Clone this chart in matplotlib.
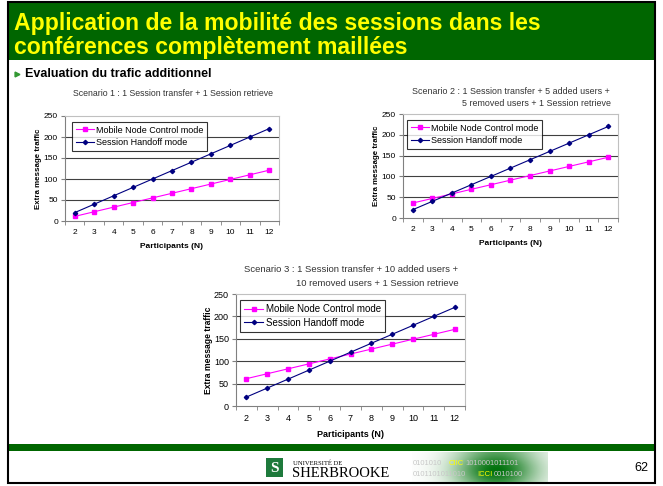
import numpy as np
import matplotlib.pyplot as plt
from matplotlib.patches import Rectangle

participants = [2, 3, 4, 5, 6, 7, 8, 9, 10, 11, 12]
handoff = [20, 40, 60, 80, 100, 120, 140, 160, 180, 200, 220]
mnc_s1 = [11, 22, 33, 44, 55, 66, 77, 88, 99, 110, 121]
mnc_s2 = [36, 47, 58, 69, 80, 91, 102, 113, 124, 135, 146]
mnc_s3 = [61, 72, 83, 94, 105, 116, 127, 138, 149, 160, 171]
series_names = ["Mobile Node Control mode", "Session Handoff mode"]
y_ticks = [0, 50, 100, 150, 200, 250]

W, H = 663, 486
fig = plt.figure(figsize=(W / 100, H / 100), dpi=100)
fig.patch.set_facecolor("white")
plt.rcParams["font.family"] = ["Liberation Sans", "DejaVu Sans"]

# full-figure overlay in pixel coordinates (y down)
bg = fig.add_axes([0, 0, 1, 1])
bg.set_xlim(0, W)
bg.set_ylim(H, 0)
bg.axis("off")

green = "#006600"
bg.add_patch(Rectangle((9, 3), 646, 57, facecolor=green, edgecolor="none"))
bg.add_patch(Rectangle((9, 444), 646, 7, facecolor=green, edgecolor="none"))
bg.add_patch(Rectangle((8, 2), 647, 481, facecolor="none", edgecolor="black", lw=1.5))

bg.text(14, 30, "Application de la mobilité des sessions dans les", color="#FFFF00",
        fontsize=16.6, fontweight="bold", va="baseline")
bg.text(14, 54, "conférences complètement maillées", color="#FFFF00",
        fontsize=16.6, fontweight="bold", va="baseline")

# sub heading with small bullet
bg.plot([17], [74], marker=">", color="#339933", markersize=3.5)
bg.text(25, 74, "Evaluation du trafic additionnel", fontsize=9, fontweight="bold",
        va="center")

# footer: logo, binary banner, page number
bg.add_patch(Rectangle((266, 458), 17, 19, facecolor="#1E7A3C", edgecolor="none"))
bg.text(274.5, 468, "S", color="white", fontsize=11, fontweight="bold",
        family="Liberation Serif", ha="center", va="center")
bg.text(293, 463, "UNIVERSITÉ DE", fontsize=4.8, family="Liberation Serif",
        va="center")
bg.text(292, 473.5, "SHERBROOKE", fontsize=10.5, family="Liberation Serif",
        va="center")

xs = np.linspace(0, 1, 200)
ys = np.linspace(0, 1, 40)
gx, gy = np.meshgrid(xs, ys)
alpha = np.exp(-((gx - 0.62) / 0.3) ** 2) * (0.55 + 0.45 * np.exp(-((gy - 0.6) / 0.5) ** 2))
rgba = np.zeros((40, 200, 4))
rgba[..., 1] = 0.45
rgba[..., 2] = 0.05
rgba[..., 3] = alpha
bg.imshow(rgba, extent=(412, 548, 482, 452), aspect="auto", zorder=1)
bg.text(413, 463, "0101010", fontsize=5.5, color="#c8c8c8", va="center", zorder=2)
bg.text(449, 463, "CIIC", fontsize=5.5, color="#FFFF00", va="center", zorder=2)
bg.text(465, 463, "1010001011101", fontsize=5.5, color="#c8c8c8", va="center", zorder=2)
bg.text(413, 474, "0101101011010", fontsize=5.5, color="#c8c8c8", va="center", zorder=2)
bg.text(477, 474, "ICCI", fontsize=5.5, color="#FFFF00", va="center", zorder=2)
bg.text(494, 474, "0010100", fontsize=5.5, color="#c8c8c8", va="center", zorder=2)

bg.text(648, 468, "62", fontsize=9, ha="right", va="center")


def draw_chart(box, mnc, fs, lfs, leg_anchor):
    x0, y0, x1, y1 = box
    ax = fig.add_axes([x0 / W, 1 - y1 / H, (x1 - x0) / W, (y1 - y0) / H])
    pos = np.arange(len(participants))
    ax.plot(pos, mnc, color="#FF00FF", lw=0.8, marker="s", markersize=3.5,
            label=series_names[0], zorder=3)
    ax.plot(pos, handoff, color="#000080", lw=0.8, marker="D", markersize=2.2,
            label=series_names[1], zorder=3)
    ax.set_xlim(-0.5, len(participants) - 0.5)
    ax.set_ylim(0, 250)
    ax.set_yticks(y_ticks)
    ax.set_xticks(pos)
    ax.set_xticklabels([str(p) for p in participants])
    ax.set_xticks(np.arange(-0.5, len(participants)), minor=True)
    ax.tick_params(axis="x", which="major", length=0, labelsize=fs, pad=6)
    ax.tick_params(axis="x", which="minor", length=3, color="#808080")
    ax.tick_params(axis="y", length=3, color="#808080", labelsize=fs, pad=2)
    for v in y_ticks[1:-1]:
        ax.axhline(v, color="#404040", lw=0.8, zorder=1)
    for s in ["top", "right"]:
        ax.spines[s].set_color("#C0C0C0")
        ax.spines[s].set_linewidth(0.8)
    for s in ["left", "bottom"]:
        ax.spines[s].set_color("#808080")
        ax.spines[s].set_linewidth(0.8)
    ax.set_xlabel("Participants (N)", fontsize=fs, fontweight="bold", labelpad=5)
    ax.set_ylabel("Extra message traffic", fontsize=fs - 0.3, fontweight="bold", labelpad=1)
    leg = ax.legend(loc="upper left", bbox_to_anchor=leg_anchor, borderaxespad=0,
                    fontsize=lfs, frameon=True, fancybox=False, handlelength=2.0,
                    borderpad=0.4, labelspacing=0.4, handletextpad=0.25)
    leg.get_frame().set_edgecolor("black")
    leg.get_frame().set_linewidth(0.8)
    return ax


draw_chart((65, 116, 279, 221), mnc_s1, 6, 6.5, (0.033, 0.943))
draw_chart((403, 114, 618, 218), mnc_s2, 6, 6.5, (0.019, 0.942))
draw_chart((236, 294, 465, 406), mnc_s3, 6.5, 7, (0.017, 0.946))

bg.text(173, 93, "Scenario 1 : 1 Session transfer + 1 Session retrieve", fontsize=6.3,
        color="#333333", ha="center", va="center")
bg.text(610, 91, "Scenario 2 : 1 Session transfer + 5 added users +", fontsize=6.4,
        color="#333333", ha="right", va="center")
bg.text(611, 103, "5 removed users + 1 Session retrieve", fontsize=6.4,
        color="#333333", ha="right", va="center")
bg.text(458, 269, "Scenario 3 : 1 Session transfer + 10 added users +", fontsize=6.8,
        color="#333333", ha="right", va="center")
bg.text(459, 283, "10 removed users + 1 Session retrieve", fontsize=6.8,
        color="#333333", ha="right", va="center")

fig.savefig("out.png", dpi=100)
